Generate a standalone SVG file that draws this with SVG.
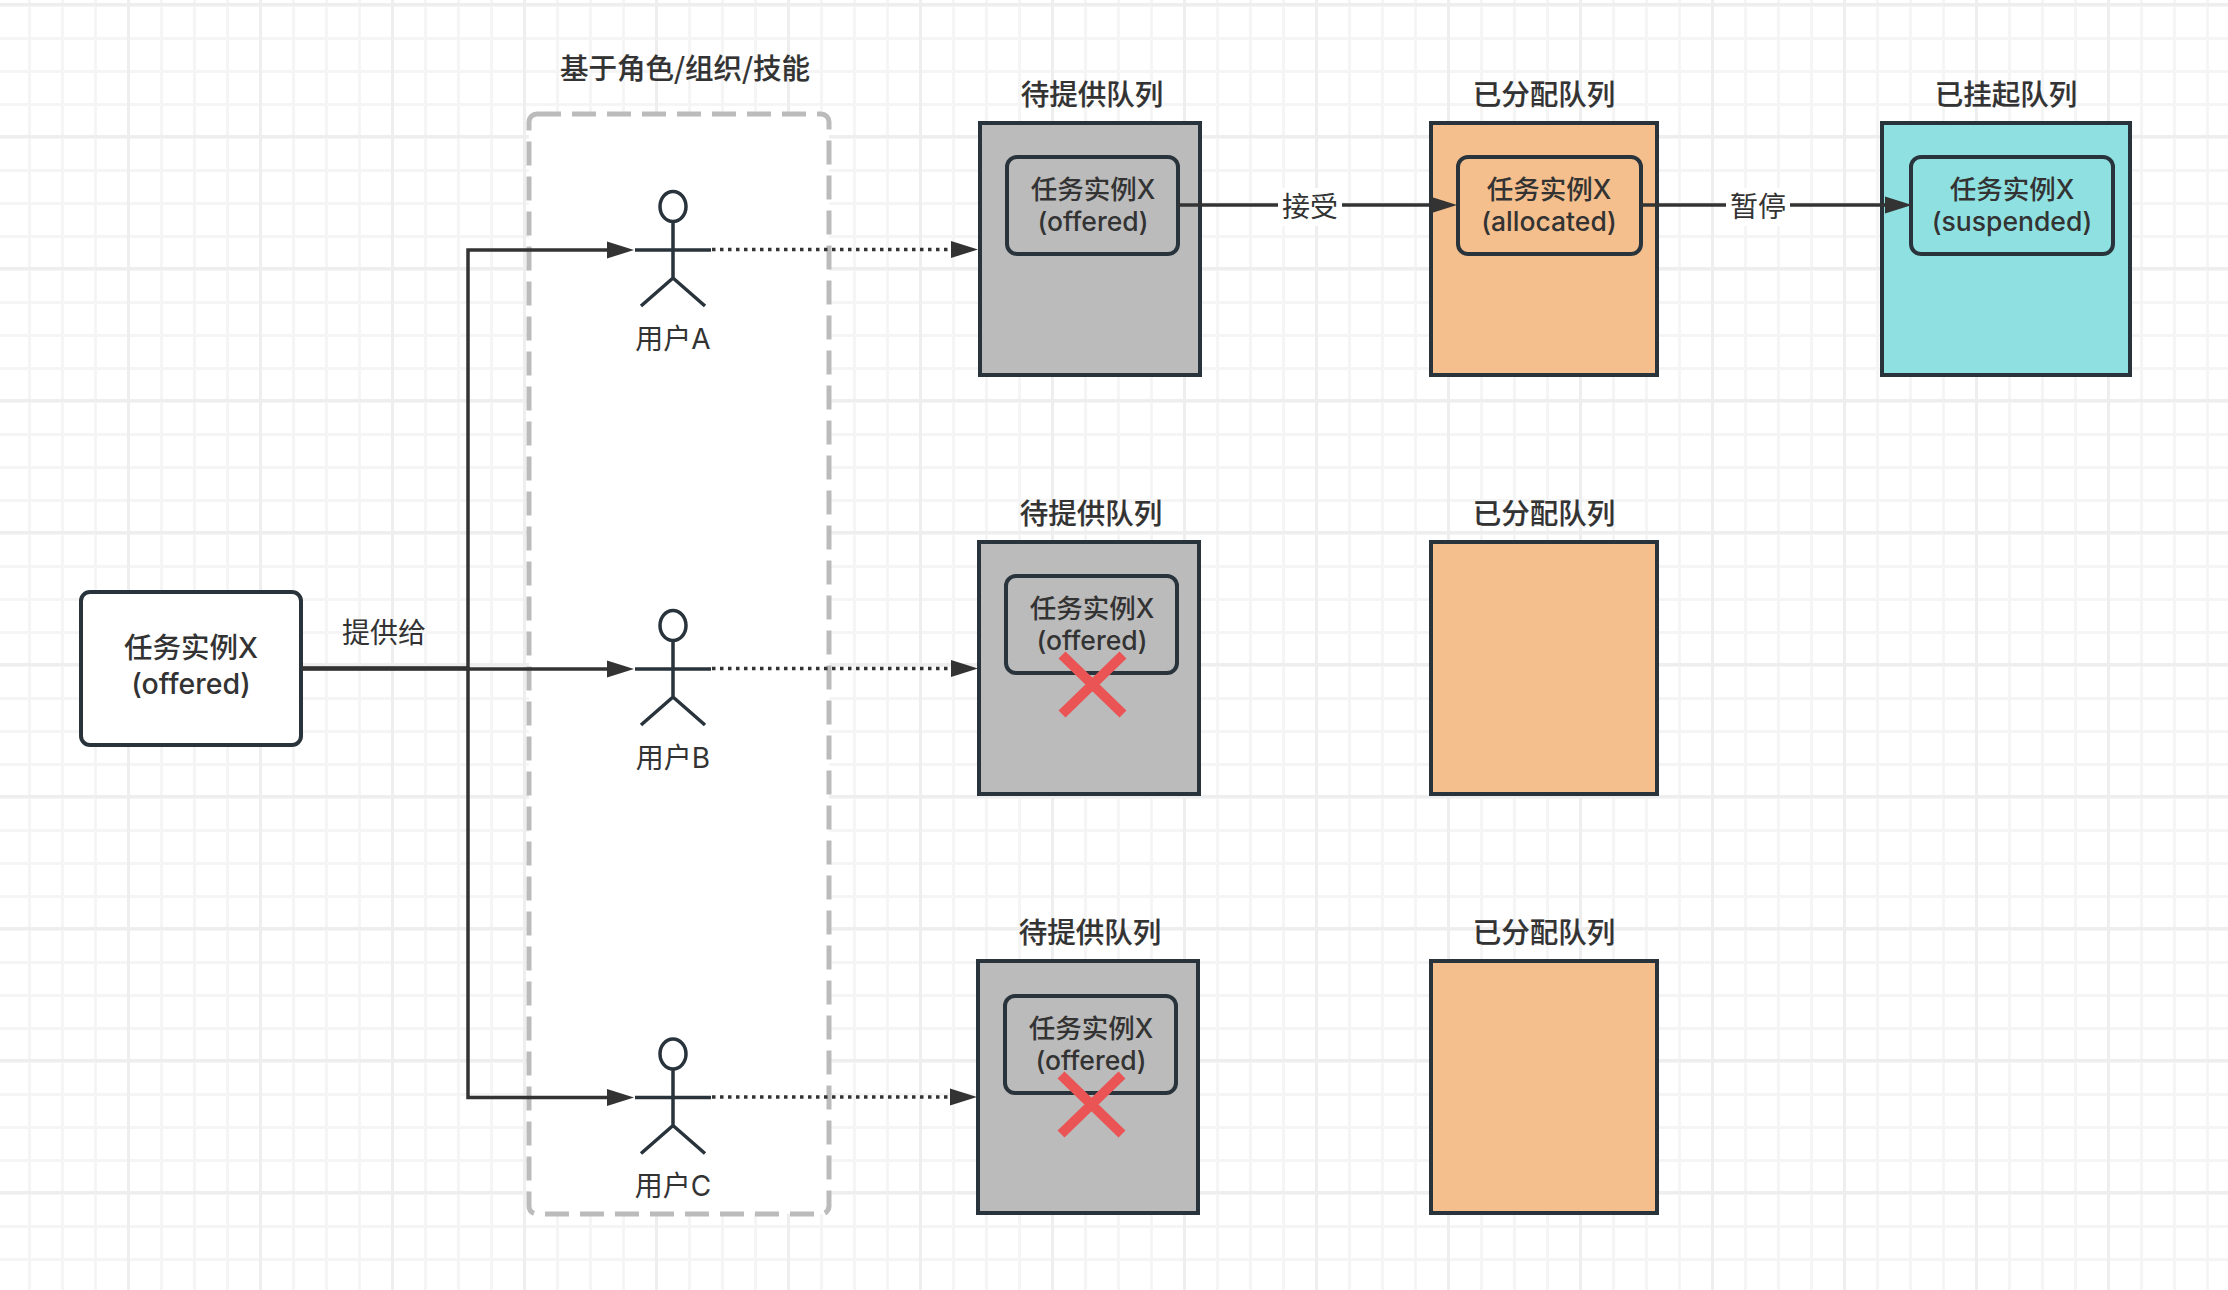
<svg xmlns="http://www.w3.org/2000/svg" width="2228" height="1290" viewBox="0 0 2228 1290">
<style>
text{font-family:"Inter","Noto Sans CJK SC","Noto Sans",sans-serif;fill:#333;text-anchor:middle}
.title{font-size:28.5px;font-weight:500;font-family:"Noto Sans CJK SC","Noto Sans",sans-serif;stroke:#333;stroke-width:.15px}
.task{font-size:26.5px;font-weight:500}
.src{font-size:28.5px;font-weight:500}
.lab{font-size:28px;font-weight:400}
.box{stroke:#29333b;stroke-width:4}
.gray{fill:#bbb}.orange{fill:#f4bf8c}.teal{fill:#8fe0e0}
.inner{stroke:#29333b;stroke-width:4;rx:10px}
.wire{fill:none;stroke:#333;stroke-width:3.5}
.arrow{marker-end:url(#tip)}
.dot{fill:none;stroke:#333;stroke-width:3.5;stroke-dasharray:3.5 4.5;marker-end:url(#tip)}
.fig{fill:none;stroke:#29333b;stroke-width:3.5}
.cross{stroke:#ea5455;stroke-width:10;fill:none}
</style>
<defs>
<marker id="tip" markerUnits="userSpaceOnUse" markerWidth="28" markerHeight="18" refX="1" refY="9" orient="auto"><path d="M0 0.5L27 9L0 17.5z" fill="#333"/></marker>
<pattern id="gridMinor" width="33" height="33" patternUnits="userSpaceOnUse" x="28" y="4"><path d="M1.5 0V33M0 1.5H33" fill="none" stroke="#f5f5f5" stroke-width="3"/></pattern>
<pattern id="gridMajor" width="132" height="132" patternUnits="userSpaceOnUse" x="127" y="3"><path d="M1.5 0V132M0 1.5H132" fill="none" stroke="#eeeeee" stroke-width="3"/></pattern>
<g id="stick">
<ellipse cx="0" cy="-43.500" rx="13" ry="15"/>
<path d="M0 -28.500V28M-38 0H38M-32 56L0 28L32 56"/>
</g>
</defs>
<rect width="2228" height="1290" fill="#fff"/>
<rect width="2228" height="1290" fill="url(#gridMinor)"/>
<rect width="2228" height="1290" fill="url(#gridMajor)"/>

<g id="role-scope">
<rect x="529" y="114" width="300" height="1100" rx="8" fill="#fff" stroke="#bbb" stroke-width="5" stroke-dasharray="24 11"/>
<text class="title" x="685" y="79">基于角色/组织/技能</text>
</g>

<g id="task-source">
<rect x="81" y="592" width="220" height="153" rx="9" fill="#fff" class="box"/>
<text class="src" x="191"><tspan x="191" y="658">任务实例X</tspan><tspan x="191" y="694">(offered)</tspan></text>
</g>

<g id="user-a"><use href="#stick" x="673" y="250" class="fig"/><text class="lab" x="673" y="349">用户A</text></g>
<g id="user-b"><use href="#stick" x="673" y="669" class="fig"/><text class="lab" x="673" y="768">用户B</text></g>
<g id="user-c"><use href="#stick" x="673" y="1097.500" class="fig"/><text class="lab" x="673" y="1196">用户C</text></g>

<g id="offered-a">
<text class="title" x="1092" y="105">待提供队列</text>
<rect x="980" y="123" width="220" height="252" class="box gray"/>
<rect x="1007" y="157" width="171" height="97" class="inner gray"/>
<text class="task"><tspan x="1093" y="199">任务实例X</tspan><tspan x="1093" y="231">(offered)</tspan></text>
</g>
<g id="allocated-a">
<text class="title" x="1544" y="105">已分配队列</text>
<rect x="1431" y="123" width="226" height="252" class="box orange"/>
<rect x="1458" y="157" width="183" height="97" class="inner orange"/>
<text class="task"><tspan x="1549" y="199">任务实例X</tspan><tspan x="1549" y="231">(allocated)</tspan></text>
</g>
<g id="suspended-a">
<text class="title" x="2006" y="105">已挂起队列</text>
<rect x="1882" y="123" width="248" height="252" class="box teal"/>
<rect x="1911" y="157" width="202" height="97" class="inner teal"/>
<text class="task"><tspan x="2012" y="199">任务实例X</tspan><tspan x="2012" y="231">(suspended)</tspan></text>
</g>

<g id="offered-b">
<text class="title" x="1091" y="524">待提供队列</text>
<rect x="979" y="542" width="220" height="252" class="box gray"/>
<rect x="1006" y="576" width="171" height="97" class="inner gray"/>
<text class="task"><tspan x="1092" y="618">任务实例X</tspan><tspan x="1092" y="650">(offered)</tspan></text>
<path class="cross" d="M1062 655L1123 714M1123 655L1062 714"/>
</g>
<g id="allocated-b">
<text class="title" x="1544" y="524">已分配队列</text>
<rect x="1431" y="542" width="226" height="252" class="box orange"/>
</g>

<g id="offered-c">
<text class="title" x="1090" y="943">待提供队列</text>
<rect x="978" y="961" width="220" height="252" class="box gray"/>
<rect x="1005" y="996" width="171" height="97" class="inner gray"/>
<text class="task"><tspan x="1091" y="1038">任务实例X</tspan><tspan x="1091" y="1070">(offered)</tspan></text>
<path class="cross" d="M1061 1075L1122 1134M1122 1075L1061 1134"/>
</g>
<g id="allocated-c">
<text class="title" x="1544" y="943">已分配队列</text>
<rect x="1431" y="961" width="226" height="252" class="box orange"/>
</g>

<g id="connectors">
<path class="wire arrow" d="M302 668H468V250H608"/>
<path class="wire arrow" d="M302 669H608"/>
<path class="wire arrow" d="M302 668.500H468V1097.500H608"/>
<path class="dot" d="M712 249.500H952"/>
<path class="dot" d="M712 668.500H952"/>
<path class="dot" d="M712 1097H951"/>
<path class="wire arrow" d="M1178 205H1431"/>
<path class="wire arrow" d="M1641 205H1886"/>
<rect x="1278" y="188" width="64" height="38" fill="#fff"/>
<text class="lab" x="1310" y="217">接受</text>
<rect x="1726" y="188" width="64" height="38" fill="#fff"/>
<text class="lab" x="1758" y="217">暂停</text>
<text class="lab" x="384" y="643">提供给</text>
</g>
</svg>
